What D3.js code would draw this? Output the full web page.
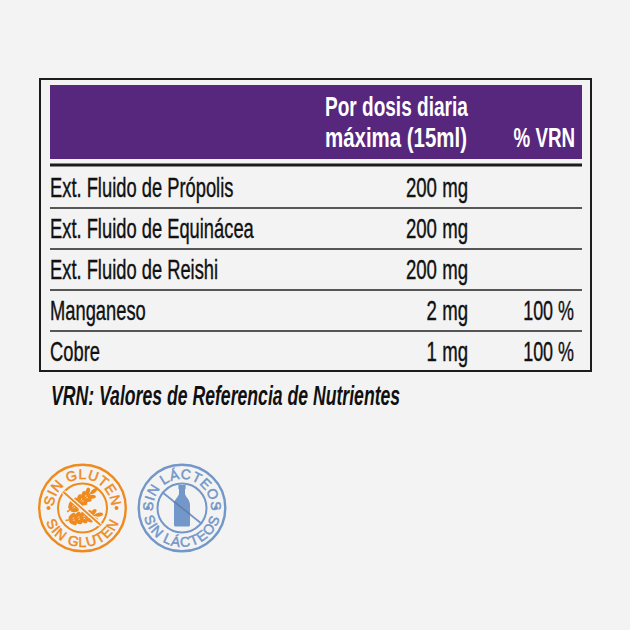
<!DOCTYPE html>
<html>
<head>
<meta charset="utf-8">
<script src="https://cdnjs.cloudflare.com/ajax/libs/d3/7.8.5/d3.min.js"></script>
<style>
  html, body { margin: 0; padding: 0; background: #f3f3f3; }
  svg { display: block; }
  text { font-family: "Liberation Sans Narrow", "Liberation Sans", sans-serif; }
</style>
</head>
<body>
<svg id="chart" width="630" height="630"></svg>
<script>
// table content
var ingredients = ['Ext. Fluido de Própolis', 'Ext. Fluido de Equinácea', 'Ext. Fluido de Reishi', 'Manganeso', 'Cobre'];
var doses = ['200 mg', '200 mg', '200 mg', '2 mg', '1 mg'];
var vrn = ['', '', '', '100 %', '100 %'];
var headerDose = ['Por dosis diaria', 'máxima (15ml)'];
var headerVrn = '% VRN';
var footnote = 'VRN: Valores de Referencia de Nutrientes';

var PURPLE = '#57277d', INK = '#111111', ORANGE = '#ee8a1e', BLUE = '#7397c9';

var svg = d3.select('#chart');

// rows run from under the header rule to the bottom of the frame
var y = d3.scaleBand().domain(d3.range(ingredients.length)).range([167, 372]);
var left = 50, right = 582, doseX = 468, vrnX = 574;

function label(parent, x, yPos, str, size, squeeze, anchor, fill, weight, style) {
  return parent.append('text')
    .attr('transform', 'translate(' + x + ',' + yPos + ') scale(' + squeeze + ',1)')
    .attr('text-anchor', anchor)
    .attr('font-size', size)
    .attr('font-weight', weight || 'normal')
    .attr('font-style', style || 'normal')
    .attr('fill', fill)
    .attr('stroke', weight ? 'none' : fill)
    .attr('stroke-width', weight ? 0 : 0.4)
    .text(str);
}

svg.append('rect')
  .attr('x', 40).attr('y', 79).attr('width', 551).attr('height', 292)
  .attr('fill', 'none').attr('stroke', '#1c1c1c').attr('stroke-width', 2);

svg.append('rect')
  .attr('x', left).attr('y', 85).attr('width', right - left).attr('height', 74)
  .attr('fill', PURPLE);

svg.append('line')
  .attr('x1', left).attr('x2', right).attr('y1', 165).attr('y2', 165)
  .attr('stroke', '#1c1c1c').attr('stroke-width', 3);

// the two header lines differ a little in width in the original
var headerSqueeze = [0.68, 0.73];
headerDose.forEach(function(t, i) {
  label(svg, 325, 116 + i * 31, t, 28, headerSqueeze[i], 'start', '#ffffff', 'bold');
});
label(svg, vrnX + 1, 147, headerVrn, 28, 0.67, 'end', '#ffffff', 'bold');

// row separators, one below each row except the last
svg.selectAll('line.row')
  .data(d3.range(ingredients.length - 1))
  .enter().append('line')
  .attr('class', 'row')
  .attr('x1', left).attr('x2', right)
  .attr('y1', function(d) { return y(d) + y.bandwidth(); })
  .attr('y2', function(d) { return y(d) + y.bandwidth(); })
  .attr('stroke', '#222222').attr('stroke-width', 1.5);

ingredients.forEach(function(name, i) {
  var base = y(i) + 29.5;
  label(svg, left, base, name, 28, 0.655, 'start', INK);
  label(svg, doseX, base, doses[i], 28, 0.665, 'end', INK);
  if (vrn[i]) label(svg, vrnX, base, vrn[i], 28, 0.64, 'end', INK);
});

label(svg, 51, 405, footnote, 28, 0.63, 'start', INK, 'bold', 'italic');

// arc running over the top or under the bottom
function arcPath(r, top) {
  var a = 125 * Math.PI / 180, sx = Math.sin(a) * r, sy = Math.cos(a) * r;
  return top
    ? 'M' + (-sx) + ',' + (-sy) + ' A' + r + ',' + r + ' 0 1 1 ' + sx + ',' + (-sy)
    : 'M' + (-sx) + ',' + sy + ' A' + r + ',' + r + ' 0 1 0 ' + sx + ',' + sy;
}

// badges: ring, lettering on two arcs, inner circle with crossed icon
function badge(id, cx, cy, color, word) {
  var g = svg.append('g').attr('transform', 'translate(' + cx + ',' + cy + ')');
  g.append('circle').attr('r', 43.3).attr('fill', 'none').attr('stroke', color).attr('stroke-width', 2.4);
  g.append('circle').attr('r', 24.5).attr('fill', 'none').attr('stroke', color).attr('stroke-width', 2);

  g.append('path').attr('id', id + 'Top').attr('fill', 'none').attr('d', arcPath(29, true));
  g.append('path').attr('id', id + 'Bot').attr('fill', 'none').attr('d', arcPath(39, false));

  ['Top', 'Bot'].forEach(function(side) {
    g.append('text')
      .attr('font-size', 14)
      .attr('letter-spacing', side === 'Top' ? 0.4 : 1)
      .attr('fill', color)
      .attr('stroke', color)
      .attr('stroke-width', 0.5)
      .style('font-family', '"Liberation Sans", sans-serif')
      .attr('text-anchor', 'middle')
      .append('textPath')
      .attr('href', '#' + id + side)
      .attr('startOffset', '50%')
      .text(word);
  });

  [-34, 34].forEach(function(dx) {
    g.append('circle').attr('cx', dx).attr('cy', 0).attr('r', 2).attr('fill', color);
  });
  return g;
}

var gluten = badge('gluten', 82.5, 508, ORANGE, 'SIN GLUTEN');

// two wheat ears, built from rotated grains
[{ x: -13, y: 2, a: -38 }, { x: -14, y: 12, a: -10 }].forEach(function(ear) {
  var e = gluten.append('g').attr('transform', 'translate(' + ear.x + ',' + ear.y + ') rotate(' + ear.a + ')');
  e.append('line').attr('x1', -3).attr('x2', 30).attr('stroke', ORANGE).attr('stroke-width', 1.4);
  d3.range(5).forEach(function(k) {
    [-1, 1].forEach(function(side) {
      e.append('ellipse')
        .attr('rx', 4.2).attr('ry', 2.1)
        .attr('transform', 'translate(' + (4 + k * 5.4) + ',' + (side * 3.2) + ') rotate(' + (side * 35) + ')')
        .attr('fill', ORANGE);
    });
  });
  e.append('ellipse').attr('cx', 31).attr('rx', 4).attr('ry', 1.9).attr('fill', ORANGE);
});
gluten.append('line')
  .attr('x1', -19).attr('y1', -16).attr('x2', 18).attr('y2', 17)
  .attr('stroke', '#f3f3f3').attr('stroke-width', 4.5);
gluten.append('line')
  .attr('x1', -19).attr('y1', -16).attr('x2', 18).attr('y2', 17)
  .attr('stroke', ORANGE).attr('stroke-width', 1.8);

var dairy = badge('dairy', 182, 508, BLUE, 'SIN LÁCTEOS');
dairy.append('line')
  .attr('x1', -20).attr('y1', -16).attr('x2', 20).attr('y2', 16)
  .attr('stroke', BLUE).attr('stroke-width', 1.8);
dairy.append('path')
  .attr('fill', BLUE)
  .attr('d', 'M-3.6,-23 H3.6 V-19 H3 V-15 C3,-11 8,-9 8,-3 V17 Q8,18.5 6.5,18.5 H-6.5 Q-8,18.5 -8,17 V-3 C-8,-9 -3,-11 -3,-15 V-19 H-3.6 Z');
dairy.append('line')
  .attr('x1', -8).attr('y1', -6.4).attr('x2', 8).attr('y2', 6.4)
  .attr('stroke', '#5f7fb0').attr('stroke-width', 1.6);
</script>
</body>
</html>
